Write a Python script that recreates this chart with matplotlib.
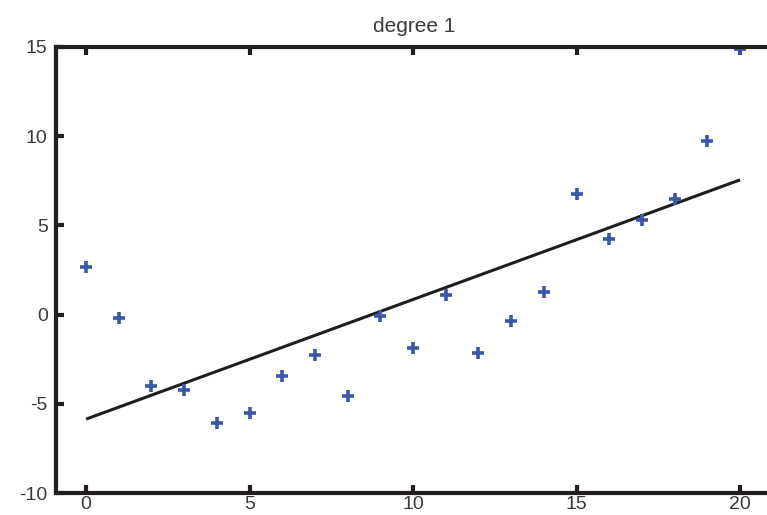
import numpy as np
import matplotlib
matplotlib.use("Agg")
import matplotlib.pyplot as plt

# data
x_vals = list(range(21))
y_vals = [2.65, -0.19, -3.98, -4.24, -6.07, -5.51, -3.42, -2.28, -4.54, -0.09,
          -1.87, 1.12, -2.15, -0.34, 1.25, 6.77, 4.24, 5.32, 6.50, 9.75, 14.89]
x_ticks = [0, 5, 10, 15, 20]
y_ticks = [-10, -5, 0, 5, 10, 15]
title_text = "degree 1"

plt.rcParams['font.family'] = ['Liberation Sans', 'DejaVu Sans']

fig = plt.figure(figsize=(7.67, 5.15), dpi=100)
ax = fig.add_axes([56/767, 22/515, 716.8/767, 446/515])

# degree-1 polynomial fit of the data
coef = np.polyfit(x_vals, y_vals, 1)
xf = np.array([x_vals[0], x_vals[-1]])
ax.plot(xf, np.polyval(coef, xf), color='#1e1e1e', lw=2.2, solid_capstyle='butt')
ax.plot(x_vals, y_vals, linestyle='none', marker='+', ms=8, mew=2.6, color='#3a56a8')

ax.set_xlim(-0.92, 21)
ax.set_ylim(-10, 15)
ax.set_xticks(x_ticks)
ax.set_yticks(y_ticks)
ax.set_xticklabels([str(t) for t in x_ticks])
ax.set_yticklabels([str(t) for t in y_ticks])

for s in ax.spines.values():
    s.set_linewidth(3)
    s.set_color('#231f20')

ax.tick_params(direction='in', length=6, width=3, color='#231f20',
               top=True, right=False, labelsize=14, labelcolor='#3a3a3a')
ax.tick_params(axis='x', pad=2)
ax.tick_params(axis='y', pad=6)

ax.set_title(title_text, fontsize=15, color='#3a3a3a', pad=11)

fig.savefig("out.png", dpi=100)
